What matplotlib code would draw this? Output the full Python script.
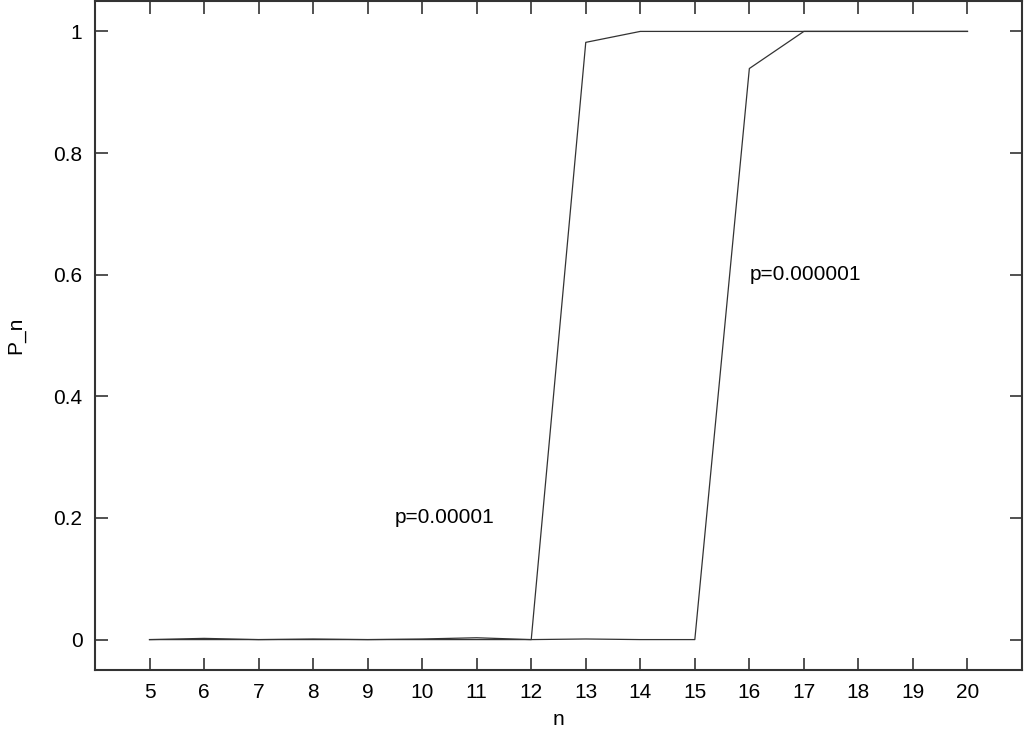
import matplotlib
matplotlib.use("Agg")
import matplotlib.pyplot as plt

plt.rcParams['font.family'] = ['Liberation Sans', 'DejaVu Sans']

# data
n = [5, 6, 7, 8, 9, 10, 11, 12, 13, 14, 15, 16, 17, 18, 19, 20]
p_1e5 = [0.0, 0.002, 0.0, 0.001, 0.0, 0.001, 0.003, 0.0,
         0.982, 1.0, 1.0, 1.0, 1.0, 1.0, 1.0, 1.0]
p_1e6 = [0.0, 0.0, 0.0, 0.0, 0.0, 0.0, 0.0, 0.0,
         0.001, 0.0, 0.0, 0.939, 1.0, 1.0, 1.0, 1.0]
x_ticks = list(range(5, 21))
y_ticks = [0, 0.2, 0.4, 0.6, 0.8, 1]
y_tick_labels = ['0', '0.2', '0.4', '0.6', '0.8', '1']

fig = plt.figure(figsize=(10.24, 7.30), dpi=100)
ax = fig.add_axes([95 / 1024, 60 / 730, 927 / 1024, 669 / 730])

ax.plot(n, p_1e5, color='#333333', lw=0.9)
ax.plot(n, p_1e6, color='#333333', lw=0.9)

ax.text(9.5, 0.2, 'p=0.00001', fontsize=15, va='center', ha='left')
ax.text(16, 0.6, 'p=0.000001', fontsize=15, va='center', ha='left')

ax.set_xlim(4, 21)
ax.set_ylim(-0.05, 1.05)
ax.set_xticks(x_ticks)
ax.set_yticks(y_ticks)
ax.set_yticklabels(y_tick_labels)
ax.tick_params(direction='in', length=9, width=1.2, top=True, right=True,
               labelsize=15, pad=9, color='#333333')
for s in ax.spines.values():
    s.set_linewidth(1.5)
    s.set_color('#333333')

ax.set_xlabel('n', fontsize=15, labelpad=6)
ax.set_ylabel('P_n', fontsize=15, labelpad=20)

fig.savefig('out.png', dpi=100)
